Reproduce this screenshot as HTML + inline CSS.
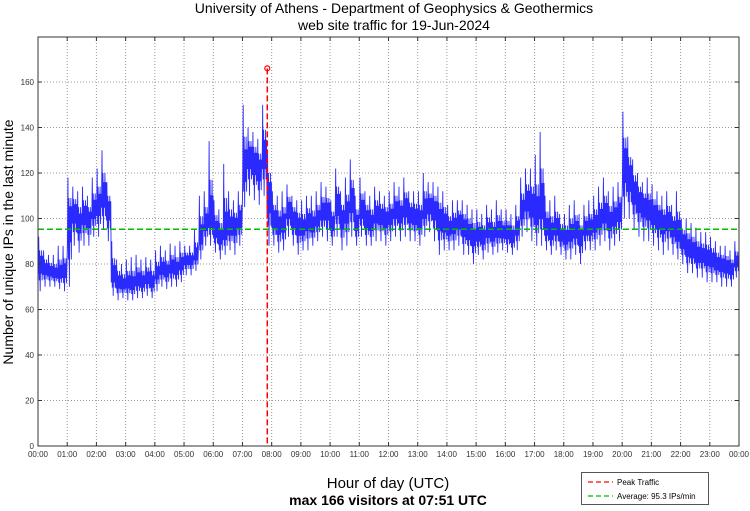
<!DOCTYPE html>
<html><head><meta charset="utf-8"><style>
html,body{margin:0;padding:0;background:#fff;}
svg{display:block;font-family:"Liberation Sans",sans-serif;}
</style></head><body>
<svg id="chart" width="750" height="511" viewBox="0 0 750 511">
<text x="394" y="13" font-size="14" text-anchor="middle">University of Athens - Department of Geophysics &amp; Geothermics</text>
<text x="394" y="30" font-size="14" text-anchor="middle">web site traffic for 19-Jun-2024</text>
<text transform="translate(13,242) rotate(-90)" font-size="14" text-anchor="middle">Number of unique IPs in the last minute</text>
<text x="388" y="488" font-size="15" text-anchor="middle">Hour of day (UTC)</text>
<text x="388" y="505" font-size="14" font-weight="bold" text-anchor="middle">max 166 visitors at 07:51 UTC</text>
<g id="grid"></g>
<g id="series"></g>
<rect x="38" y="37" width="701" height="409" fill="none" stroke="#333" stroke-width="1"/>
<g id="axes"></g>
<g>
<rect x="581.5" y="472.5" width="127" height="32" fill="#fff" stroke="#555"/>
<line x1="588" y1="482" x2="613" y2="482" stroke="#f00" stroke-width="1.3" stroke-dasharray="5,3"/>
<text x="617" y="485" font-size="8">Peak Traffic</text>
<line x1="588" y1="496" x2="613" y2="496" stroke="#0b0" stroke-width="1.3" stroke-dasharray="5,3"/>
<text x="617" y="499" font-size="8">Average: 95.3 IPs/min</text>
</g>
</svg>
<script>
const binMinutes = 10;
const meanVals = [80,78,77,76,76,77, 100,103,98,102,100,104, 106,110,104,75,72,71, 72,71,73,72,74,72, 76,78,77,79,78,80, 82,82,84,92,98,100, 95,92,94,96,97,100, 122,128,125,122,128,110, 100,97,98,104,100,97, 96,99,97,100,103,104, 98,106,100,103,108,98, 104,100,98,102,101,100, 101,104,102,105,102,101, 100,104,106,104,100,98, 96,97,99,96,94,92, 93,92,95,93,95,94, 94,92,96,104,108,106, 102,106,96,94,96,93, 92,94,95,92,96,96, 98,100,102,99,101,103, 124,118,112,108,106,104, 102,100,98,99,96,94, 90,87,86,84,84,83, 82,80,80,79,78,81];
const lowVals = [68,70,70,70,69,68, 70,88,85,88,88,92, 92,95,90,66,64,65, 64,64,65,65,66,65, 68,70,69,70,70,72, 75,75,77,82,88,88, 85,82,84,86,84,88, 105,110,108,106,110,88, 88,85,86,92,88,84, 86,86,88,90,92,90, 88,92,86,88,92,88, 92,88,88,90,90,88, 90,92,90,92,90,90, 88,92,94,90,84,86, 86,86,88,84,84,80, 84,82,85,84,85,86, 85,84,86,92,94,90, 88,88,86,84,86,84, 82,82,84,80,86,86, 86,88,90,86,88,90, 100,100,95,92,90,90, 88,86,84,86,84,82, 80,76,76,74,74,72, 72,72,70,70,70,74];
const highVals = [92,86,84,84,88,88, 118,114,112,114,110,118, 122,130,116,90,82,80, 82,83,84,82,83,82, 86,88,86,89,88,90, 88,88,95,110,112,134, 108,104,124,112,108,112, 150,140,138,135,150,130, 112,110,112,115,110,108, 108,110,110,112,116,114, 108,122,112,118,126,110, 118,112,110,114,112,110, 112,116,114,118,112,112, 112,120,116,116,114,112, 106,108,108,108,106,104, 104,102,106,104,108,104, 104,102,106,118,122,122, 128,138,110,108,110,102, 102,106,108,102,106,108, 110,114,118,112,114,116, 147,136,126,120,116,118, 115,112,110,112,106,112, 100,100,98,96,94,94, 92,90,88,88,86,90];
const yTicks = [0,20,40,60,80,100,120,140,160];
const xTickLabels = ["00:00","01:00","02:00","03:00","04:00","05:00","06:00","07:00","08:00","09:00","10:00","11:00","12:00","13:00","14:00","15:00","16:00","17:00","18:00","19:00","20:00","21:00","22:00","23:00","00:00"];
const peakMinute = 471;
const peakValue = 166;
const averageValue = 95.3;

const NS="http://www.w3.org/2000/svg";
const X0=38,X1=739,Y0=446,Y1=37;
function xScale(min){return X0+(X1-X0)*min/1440;}
function yScale(v){return Y0-v*(446-82)/160;}
function mk(tag,attrs,parent){const e=document.createElementNS(NS,tag);for(const k in attrs)e.setAttribute(k,attrs[k]);parent.appendChild(e);return e;}
const gridG=document.getElementById('grid'),seriesG=document.getElementById('series'),axesG=document.getElementById('axes');
yTicks.forEach(v=>{
  const y=yScale(v);
  if(v>0){const g=mk('line',{x1:X0,x2:X1,y1:y,y2:y,stroke:'#999','stroke-dasharray':'1,2'},gridG);
  
  }
  const t=mk('text',{x:X0-4,y:y+3,'font-size':8,'text-anchor':'end',fill:'#333'},axesG);t.textContent=v;
  
  
  mk('line',{x1:X0,x2:X0+4,y1:y,y2:y,stroke:'#333'},axesG);
  mk('line',{x1:X1-4,x2:X1,y1:y,y2:y,stroke:'#333'},axesG);
});
xTickLabels.forEach((lab,i)=>{
  const x=xScale(i*60);
  if(i>0&&i<24){const g=mk('line',{x1:x,x2:x,y1:Y1,y2:Y0,stroke:'#999','stroke-dasharray':'1,2'},gridG);
  
  }
  mk('line',{x1:x,x2:x,y1:Y0-4,y2:Y0,stroke:'#333'},axesG);
  mk('line',{x1:x,x2:x,y1:Y1,y2:Y1+4,stroke:'#333'},axesG);
  const t=mk('text',{x:x,y:457,'font-size':8,'text-anchor':'middle',fill:'#333'},axesG);t.textContent=lab;
  
  
});
// zig-zag trace within each bin between its low/high extents
const pts=[];
for(let i=0;i<meanVals.length;i++){
  const m=meanVals[i],h=highVals[i],l=lowVals[i];
  const mh=m+0.5*(h-m),ml=m-0.6*(m-l),mh2=m+0.3*(h-m),ml2=m-0.35*(m-l);
  const seq=[ml2,h,ml,mh,l,mh2,ml2,mh,ml,mh2];
  seq.forEach((v,k)=>pts.push(xScale(i*binMinutes+binMinutes*(k+0.5)/seq.length)+','+yScale(v)));
}
const line=mk('polyline',{points:pts.join(' '),fill:'none',stroke:'#2a2aff','stroke-width':0.9,'stroke-linejoin':'miter'},seriesG);


const avg=mk('line',{x1:X0,x2:X1,y1:yScale(averageValue),y2:yScale(averageValue),stroke:'#0b0','stroke-width':1.5,'stroke-dasharray':'6,3'},seriesG);


const px=xScale(peakMinute);
const pk=mk('line',{x1:px,x2:px,y1:yScale(peakValue),y2:Y0,stroke:'#f00','stroke-width':1.5,'stroke-dasharray':'6,3'},seriesG);


const pc=mk('circle',{cx:px,cy:yScale(peakValue),r:2.5,fill:'none',stroke:'#f00','stroke-width':1.2},seriesG);


</script>
</body></html>
